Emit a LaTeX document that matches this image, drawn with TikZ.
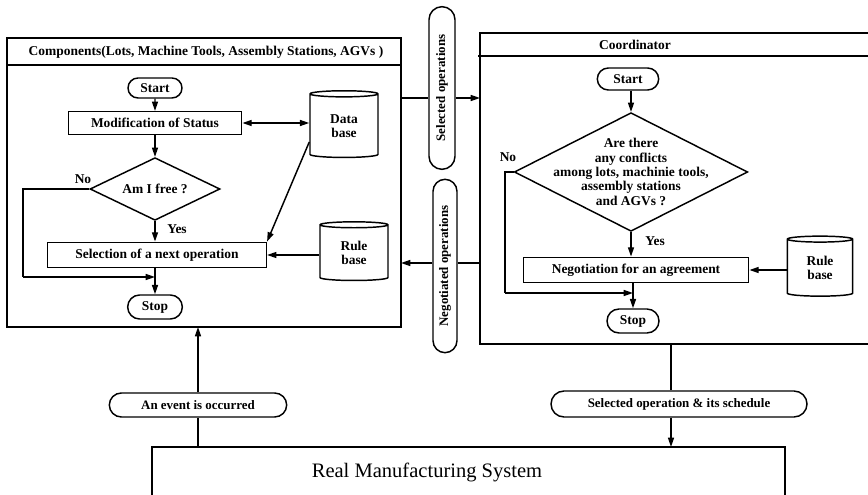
\documentclass[tikz,border=0pt]{standalone}
\usepackage{fontspec}
\setmainfont{Liberation Serif}
\usetikzlibrary{shapes.geometric,shapes.misc,arrows.meta}
\begin{document}
\begin{tikzpicture}[x=0.75pt,y=-0.75pt,line width=1.1pt,
    flow/.style={-{Triangle[length=7pt,width=4.5pt]}},
    twoway/.style={{Triangle[length=7pt,width=4.5pt]}-{Triangle[length=7pt,width=4.5pt]}},
    txt/.style={font=\fontsize{10.1}{10.8}\selectfont\bfseries},
    proc/.style={txt,draw,rectangle,inner sep=0pt},
    term/.style={txt,draw,rounded rectangle,inner sep=0pt},
    dec/.style={txt,draw,diamond,inner sep=0pt,align=center},
    store/.style={txt,draw,cylinder,shape border rotate=90,aspect=0.22,inner sep=0pt,align=center},
    msg/.style={font=\fontsize{9.7}{10}\selectfont\bfseries,draw,fill=white,rounded rectangle,inner sep=0pt}]
    \useasboundingbox (0,0) rectangle (868,495);
    % frames
    \draw (7,38) rectangle (401,327);
    \draw (7,65) -- (401,65);
    \node[txt] (ltitle) at (206,52) {Components(Lots, Machine Tools, Assembly Stations, AGVs )};
    \draw (868,33) -- (480,33) -- (480,344) -- (868,344);
    \draw (478,56) -- (868,56);
    \node[txt] (rtitle) at (635,45) {Coordinator};
    \draw (152,495) -- (152,447) -- (785,447) -- (785,495);
    \node[font=\fontsize{15.4}{17}\selectfont] (rms) at (427,472) {Real Manufacturing System};
    \coordinate (lboxSE) at (401,327);
    \coordinate (rboxSW) at (480,344);
    \coordinate (rmsL) at (152,447);
    % components
    \node[term,minimum width=40.5pt,minimum height=15pt] (lstart) at (155,88) {Start};
    \node[proc,minimum width=130pt,minimum height=17pt] (lmod) at (155,123) {Modification of Status};
    \node[store,minimum width=51pt,minimum height=50pt] (ldata) at (344,126) {Data\\base};
    \node[dec,aspect=2,minimum width=97.5pt,minimum height=47pt] (lfree) at (155,189) {Am I free ?};
    \node[proc,minimum width=164pt,minimum height=19pt] (lsel) at (157,255) {Selection of a next operation};
    \node[store,minimum width=51pt,minimum height=44pt] (lrule) at (354,253) {Rule\\base};
    \node[term,minimum width=41pt,minimum height=18pt] (lstop) at (155,307) {Stop};
    \node[txt] (lno) at (83,179) {No};
    \node[txt] (lyes) at (177,229) {Yes};
    \coordinate (lloop) at (23,277);
    \draw[flow] (lstart) -- (lmod);
    \draw[twoway] (lmod.east) -- (lmod.east -| ldata.west);
    \draw[flow] (lmod) -- (lfree);
    \draw[flow] (lfree.south) -- (lfree.south |- lsel.north);
    \draw[flow] ([yshift=-12pt]ldata.west) -- (lsel.north east);
    \draw[flow] (lrule.west |- lsel.east) -- (lsel.east);
    \draw (lfree.west) -| (lloop);
    \draw[flow] (lloop) -- (lloop -| lstop.north);
    \draw[flow] (lstop.north |- lsel.south) -- (lstop.north);
    % coordinator
    \node[term,minimum width=46pt,minimum height=16.5pt] (rstart) at (628,79) {Start};
    \node[draw,diamond,inner sep=0pt,minimum width=175pt,minimum height=89pt,
        label={[txt,align=center]center:{Are there\\any conflicts\\among lots, machinie tools,\\assembly stations\\and AGVs ?}}] (rconf) at (631,172) {};
    \node[proc,minimum width=169pt,minimum height=19pt] (rneg) at (636,270) {Negotiation for an agreement};
    \node[store,minimum width=49pt,minimum height=45pt] (rrule) at (820,268) {Rule\\base};
    \node[term,minimum width=39pt,minimum height=18pt] (rstop) at (633,321) {Stop};
    \node[txt] (rno) at (508,157) {No};
    \node[txt] (ryes) at (655,241) {Yes};
    \coordinate (rloop) at (505,293);
    \draw[flow] (rconf.north |- rstart.south) -- (rconf.north);
    \draw[flow] (rconf.south) -- (rconf.south |- rneg.north);
    \draw[flow] (rrule.west |- rneg.east) -- (rneg.east);
    \draw (rconf.west) -| (rloop);
    \draw[flow] (rloop) -- (rloop -| rstop.north);
    \draw[flow] (rstop.north |- rneg.south) -- (rstop.north);
    % messages between the two
    \node[msg,rotate=90,minimum width=122pt,minimum height=19.5pt] (selops) at (442,88) {Selected operations};
    \node[msg,rotate=90,minimum width=130pt,minimum height=18pt] (negops) at (445,266) {Negotiated operations};
    \coordinate (selin) at (480,98);
    \coordinate (negout) at (401,263);
    \draw (selin -| lboxSE) -- (selin -| selops.north);
    \draw[flow] (selin -| selops.south) -- (selin);
    \draw (negout -| rboxSW) -- (negout -| negops.south);
    \draw[flow] (negout -| negops.north) -- (negout);
    % real system
    \node[msg,minimum width=133pt,minimum height=18pt] (event) at (198,405) {An event is occurred};
    \node[msg,minimum width=192pt,minimum height=19.5pt] (sched) at (679,404) {Selected operation \& its schedule};
    \coordinate (schedx) at (671,404);
    \draw (event.south |- rmsL) -- (event.south);
    \draw[flow] (event.north) -- (event.north |- lboxSE);
    \draw (schedx |- rboxSW) -- (schedx |- sched.north);
    \draw[flow] (schedx |- sched.south) -- (schedx |- rmsL);
\end{tikzpicture}
\end{document}
